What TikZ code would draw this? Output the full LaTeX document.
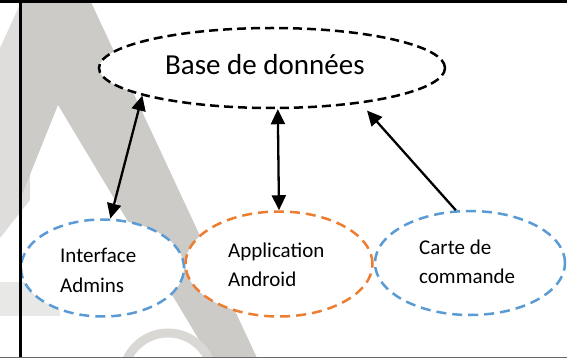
\documentclass[tikz,border=0pt]{standalone}
\usepackage{fontspec}
\setmainfont{Carlito}
\usetikzlibrary{arrows.meta,shapes.geometric}
\definecolor{wm}{RGB}{204,203,199}
\definecolor{blu}{RGB}{91,155,213}
\definecolor{org}{RGB}{237,125,49}
\definecolor{bgray}{RGB}{105,105,105}
\begin{document}
\begin{tikzpicture}[x=1pt,y=-1pt,
  >={Triangle[length=15pt,width=14pt]},
  bubble/.style={ellipse, draw, fill=white, inner sep=0pt, line width=2.5pt},
  blackdash/.style={bubble, draw=black, dash pattern=on 9pt off 5pt},
  bluedash/.style={bubble, draw=blu, dash pattern=on 10pt off 6pt},
  orgdash/.style={bubble, draw=org, dash pattern=on 10pt off 6pt},
  conn/.style={line width=2.3pt, black},
  lbl/.style={inner sep=0pt, anchor=base west, font=\fontsize{21}{25}\selectfont},
  title/.style={inner sep=0pt, anchor=base west, font=\fontsize{29}{34}\selectfont}]
\useasboundingbox (0,0) rectangle (567,358);
% watermark
\begin{scope}
\clip (0,0) rectangle (567,358);
\fill[wm!65] (0,48) -- (22,0) -- (30,0) -- (30,200) -- (0,238) -- cycle;
\fill[wm] (22,0) -- (90,0) -- (257,358) -- (210,358) -- (58,105) -- (21,197) -- (21,0) -- cycle;
\fill[wm!45] (0,282) rectangle (60,316);
\draw[wm!75, line width=9pt] (125.7,362.6) arc[start angle=200,end angle=350,radius=45];
\end{scope}
% ellipses
\node[blackdash, minimum width=346pt, minimum height=80pt] (base) at (272,68) {};
\node[bluedash, minimum width=163pt, minimum height=97pt] (ia) at (102.5,268) {};
\node[bluedash, minimum width=190pt, minimum height=104pt] (cc) at (470,263) {};
\node[orgdash, minimum width=187pt, minimum height=105pt] (app) at (279,264) {};
% connectors
\draw[conn, <->] (ia.81) -- (base.192);
\draw[conn, <->] (app.north) -- (base.278);
\draw[conn, ->] (cc.105) -- ([shift={(0,8)}]base.340);
% texts
\node[title] (tbase) at (165,75) {Base de données};
\node[lbl] (tia1) at (60,262) {Interface};
\node[lbl] (tia2) at (60,292) {Admins};
\node[lbl] (tap1) at (228,257) {Application};
\node[lbl] (tap2) at (228,286) {Android};
\node[lbl] (tcc1) at (419,254) {Carte de};
\node[lbl] (tcc2) at (419,283) {commande};
% frame
\draw[line width=3pt] (0,1.5) -- (567,1.5);
\draw[line width=2.2pt] (20.5,0) -- (20.5,358);
\draw[bgray, line width=1.5pt] (0,357.3) -- (567,357.3);
\end{tikzpicture}
\end{document}
